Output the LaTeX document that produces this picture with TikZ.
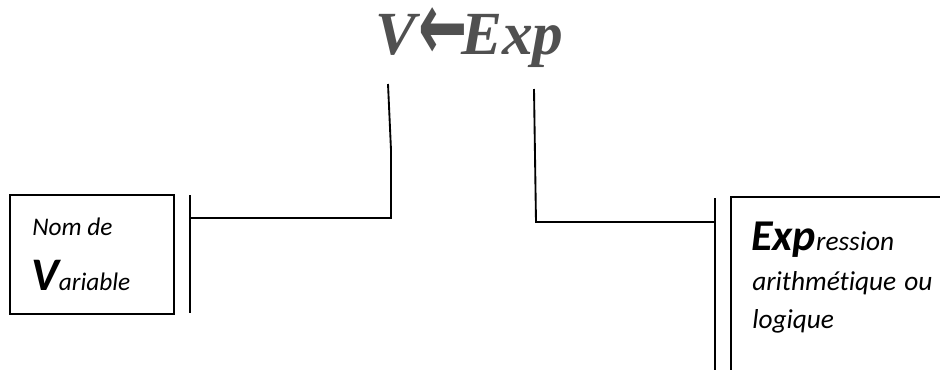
\documentclass[tikz,border=0pt]{standalone}
\usepackage{fontspec}
\setmainfont{Carlito}[Ligatures=NoCommon]
\newfontfamily\titlefont{Liberation Serif}
\newfontfamily\arrowfont{DejaVu Sans}
\usepackage{xcolor}
\usepackage{tikz}
\definecolor{titlegray}{HTML}{505050}
\tikzset{box/.style={draw,line width=1.4pt,inner sep=0pt},
  wire/.style={line width=1.4pt},
  small/.style={inner sep=0pt,anchor=base west,font=\itshape\fontsize{19}{20}\selectfont},
  bigger/.style={small,font=\itshape\fontsize{20.5}{22}\selectfont},
  title/.style={inner sep=0pt,text=titlegray,font=\titlefont\bfseries\itshape\fontsize{46}{50}\selectfont}}

\begin{document}
\begin{tikzpicture}[x=0.75pt,y=-0.75pt]
\useasboundingbox(0,0)rectangle(940,369);\clip(0,0)rectangle(940,369);
% title
\node[title,anchor=base west](tv)at(375,54){V};
\node[inner sep=0pt,text=titlegray](tarrow)at(443,34){\scalebox{1.05}[1.75]{\arrowfont\bfseries\fontsize{42}{42}\selectfont ←}};
\node[title,anchor=base west](texp)at(461,54){Exp};
% boxes and bars
\node[box,minimum width=123pt,minimum height=89.25pt](varbox)at(92,254.5){};
\node[box,minimum width=195pt,minimum height=165pt](expbox)at(861,307){};
\coordinate(L1)at(190,195);\coordinate(L2)at(190,313);\coordinate(vjoin)at(190,218);
\coordinate(R1)at(715,198);\coordinate(R2)at(715,380);\coordinate(ejoin)at(715,222);
\draw[wire](L1)--(L2);\draw[wire](R1)--(R2);
% connectors
\coordinate(vfoot)at(388,84);\coordinate(vknee)at(391,150);
\coordinate(efoot)at(534,89);\coordinate(ebend)at(536,222);
\draw[wire](vfoot)--(vknee)|-(vjoin);
\draw[wire](efoot)--(ebend)--(ejoin);
% texts
\node[small](nom)at(32,235){Nom de};
\node[small](var)at(31,290){{\bfseries\fontsize{35}{35}\selectfont V}ariable};
\node[bigger](expr)at(751,250){{\bfseries\fontsize{33}{33}\selectfont Exp}ression};
\node[bigger](arith)at(752,290){arithmétique\hspace{0.3em}ou};
\node[bigger](logi)at(752,328){logique};
\end{tikzpicture}
\end{document}
